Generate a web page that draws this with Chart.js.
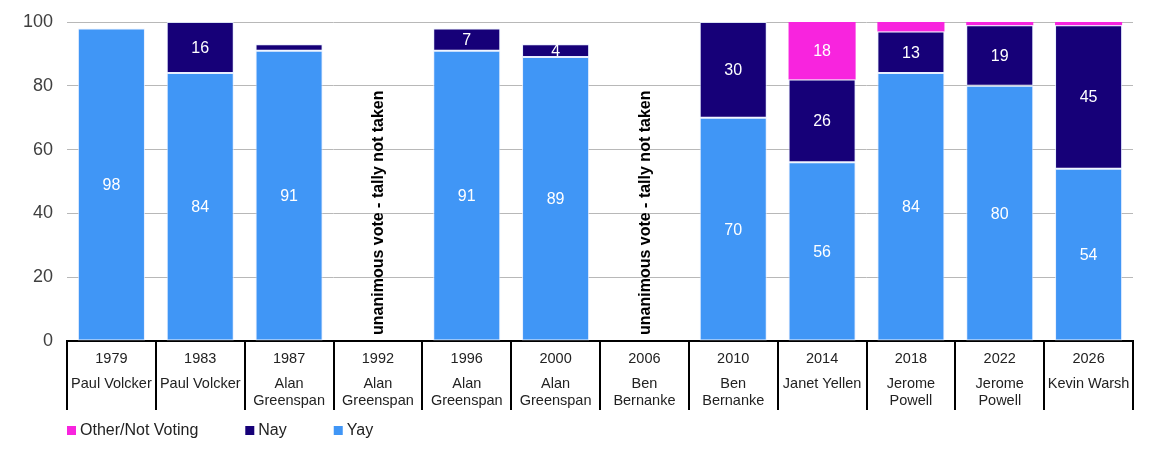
<!DOCTYPE html>
<html>
<head>
<meta charset="utf-8">
<script src="https://cdn.jsdelivr.net/npm/chart.js@4"></script>
<style>
  body { margin: 0; background: #fff; }
  #wrap { width: 1150px; height: 450px; }
</style>
</head>
<body>
<div id="wrap"><canvas id="voteChart" width="1150" height="450"></canvas></div>
<script>
var years = ['1979', '1983', '1987', '1992', '1996', '2000', '2006', '2010', '2014', '2018', '2022', '2026'];
var chairs = [
    ['Paul Volcker'], ['Paul Volcker'], ['Alan', 'Greenspan'], ['Alan', 'Greenspan'],
    ['Alan', 'Greenspan'], ['Alan', 'Greenspan'], ['Ben', 'Bernanke'], ['Ben', 'Bernanke'],
    ['Janet Yellen'], ['Jerome', 'Powell'], ['Jerome', 'Powell'], ['Kevin Warsh']
];
var yay   = [98, 84, 91, null, 91, 89, null, 70, 56, 84, 80, 54];
var nay   = [null, 16, 2, null, 7, 4, null, 30, 26, 13, 19, 45];
var other = [null, null, null, null, null, null, null, null, 18, 3, 1, 1];
var unanimousNote = 'unanimous vote - tally not taken';
var yTicks = [0, 20, 40, 60, 80, 100];

var FONT = '"Liberation Sans", Arial, sans-serif';

// values, table lines, names, notes and legend drawn on top of the bars
var extras = {
    id: 'extras',
    afterDatasetsDraw: function(chart) {
        var ctx = chart.ctx;
        ctx.save();
        ctx.fillStyle = '#ffffff';
        ctx.font = '16px ' + FONT;
        ctx.textAlign = 'center';
        ctx.textBaseline = 'middle';
        chart.data.datasets.forEach(function(ds, di) {
            var meta = chart.getDatasetMeta(di);
            meta.data.forEach(function(bar, i) {
                var v = ds.data[i];
                if (v == null || v < 4) return;
                ctx.fillText(v, bar.x, (bar.y + bar.base) / 2 + 1);
            });
        });
        ctx.restore();
    },
    afterDraw: function(chart) {
        var ctx = chart.ctx;
        var x = chart.scales.x;
        var area = chart.chartArea;
        var step = (area.right - area.left) / years.length;
        ctx.save();

        // table dividers under the axis
        ctx.strokeStyle = '#000000';
        ctx.lineWidth = 2;
        for (var i = 0; i <= years.length; i++) {
            var lx = Math.round(area.left + i * step);
            ctx.beginPath();
            ctx.moveTo(lx, area.bottom);
            ctx.lineTo(lx, area.bottom + 69);
            ctx.stroke();
        }

        // chair names
        ctx.fillStyle = '#222222';
        ctx.font = '14.5px ' + FONT;
        ctx.textAlign = 'center';
        ctx.textBaseline = 'middle';
        chairs.forEach(function(lines, i) {
            var cx = x.getPixelForValue(i);
            lines.forEach(function(t, j) {
                ctx.fillText(t, cx, area.bottom + 43 + j * 17);
            });
        });

        // rotated notes where no tally exists
        ctx.fillStyle = '#000000';
        ctx.font = 'bold 16px ' + FONT;
        ctx.textAlign = 'left';
        years.forEach(function(y, i) {
            if (yay[i] != null || nay[i] != null || other[i] != null) return;
            ctx.save();
            ctx.translate(x.getPixelForValue(i) + 1, area.bottom - 6);
            ctx.rotate(-Math.PI / 2);
            ctx.fillText(unanimousNote, 0, 0);
            ctx.restore();
        });

        // legend, reverse order
        ctx.font = '16px ' + FONT;
        ctx.textBaseline = 'middle';
        var lx2 = area.left;
        var ly = 431;
        chart.data.datasets.slice().reverse().forEach(function(ds) {
            ctx.fillStyle = ds.backgroundColor;
            ctx.fillRect(lx2, ly - 5, 9, 9);
            ctx.fillStyle = '#222222';
            ctx.fillText(ds.label, lx2 + 13, ly);
            lx2 += 13 + ctx.measureText(ds.label).width + 47;
        });
        ctx.restore();
    }
};

var ctx = document.getElementById('voteChart').getContext('2d');
var datasets = [
    { label: 'Yay', data: yay, backgroundColor: '#4096f6', borderWidth: 1 },
    { label: 'Nay', data: nay, backgroundColor: '#160078', borderWidth: 1 },
    { label: 'Other/Not Voting', data: other, backgroundColor: '#f824de', borderWidth: 0 }
];
datasets.forEach(function(d) {
    d.borderColor = 'rgba(225, 235, 255, 0.8)';
    d.borderSkipped = false;
    d.categoryPercentage = 1.0;
    d.barPercentage = 0.755;
});

var myChart = new Chart(ctx, {
    type: 'bar',
    data: { labels: years, datasets: datasets },
    options: {
        responsive: false,
        animation: false,
        layout: { padding: { top: 22, right: 17, bottom: 39, left: 0 } },
        plugins: {
            legend: { display: false },
            tooltip: { enabled: false }
        },
        scales: {
            x: {
                stacked: true,
                grid: { display: false },
                border: { display: true, color: '#000000', width: 2 },
                ticks: { color: '#222222', font: { family: FONT, size: 14.5 }, padding: 1, maxRotation: 0 },
                afterFit: function(scale) {
                    scale.height = 70;
                    scale.paddingLeft = 0;
                    scale.paddingRight = 0;
                }
            },
            y: {
                stacked: true,
                min: 0,
                max: 100,
                afterBuildTicks: function(scale) {
                    scale.ticks = yTicks.map(function(v) { return { value: v }; });
                },
                grid: { color: '#b8b8b8', lineWidth: 1, drawTicks: false },
                border: { display: false },
                ticks: { color: '#404040', font: { family: FONT, size: 18 }, padding: 14 },
                afterFit: function(scale) {
                    scale.width = 67;
                    scale.paddingTop = 0;
                    scale.paddingBottom = 0;
                }
            }
        }
    },
    plugins: [extras]
});
</script>
</body>
</html>
